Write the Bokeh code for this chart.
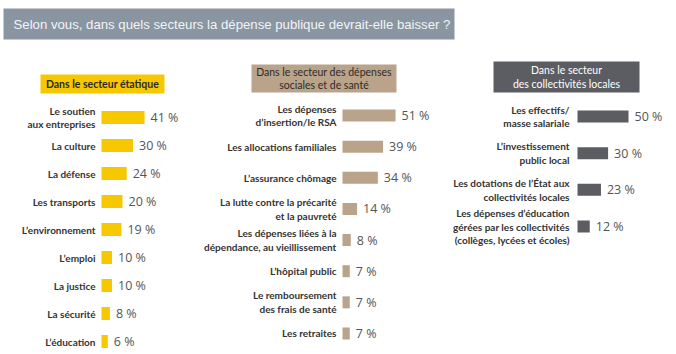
from bokeh.plotting import figure
from bokeh.models import Range1d, ColumnDataSource
from bokeh.layouts import column, row
from bokeh.embed import file_html
from bokeh.resources import INLINE
from bokeh.core.properties import value

title_text = "Selon vous, dans quels secteurs la dépense publique devrait-elle baisser ?"

etat_header = "Dans le secteur étatique"
etat_labels = ["Le soutien\naux entreprises", "La culture", "La défense", "Les transports",
               "L’environnement", "L’emploi", "La justice", "La sécurité", "L’éducation"]
etat_values = [41, 30, 24, 20, 19, 10, 10, 8, 6]

social_header = "Dans le secteur des dépenses\nsociales et de santé"
social_labels = ["Les dépenses\nd’insertion/le RSA", "Les allocations familiales", "L’assurance chômage",
                 "La lutte contre la précarité\net la pauvreté",
                 "Les dépenses liées à la\ndépendance, au vieillissement",
                 "L’hôpital public", "Le remboursement\ndes frais de santé", "Les retraites"]
social_values = [51, 39, 34, 14, 8, 7, 7, 7]

local_header = "Dans le secteur\ndes collectivités locales"
local_labels = ["Les effectifs/\nmasse salariale", "L’investissement\npublic local",
                "Les dotations de l’État aux\ncollectivités locales",
                "Les dépenses d’éducation\ngérées par les collectivités\n(collèges, lycées et écoles)"]
local_values = [50, 30, 23, 12]

LABEL_FONT = "Lato"
TOP_H = 48
PANEL_H = 354 - TOP_H


def make_panel(labels, values, header, color, page_x0, width, bar_left, scale, first_y, spacing,
               bar_h, hbox, hfill, htext_color, hstyle, label_gap):
    # ranges: 1 data unit in x = 1 percent; 1 data unit in y = one row
    x0 = -(bar_left - page_x0) / scale
    x1 = (page_x0 + width - bar_left) / scale
    y_top = -(first_y - TOP_H) / spacing
    y_bot = (354 - first_y) / spacing
    p = figure(width=width, height=PANEL_H, x_range=Range1d(x0, x1), y_range=Range1d(y_bot, y_top),
               toolbar_location=None, output_backend="svg", min_border=0,
               x_axis_location=None, y_axis_location=None, outline_line_color=None)
    p.grid.visible = False
    p.background_fill_color = "white"
    p.border_fill_color = "white"

    src = ColumnDataSource(dict(
        y=list(range(len(values))),
        v=values,
        lab=labels,
        txt=[f"{v} %" for v in values],
        zero=[0] * len(values),
    ))
    p.hbar(y="y", left=0, right="v", height=bar_h / spacing, source=src,
           fill_color=color, line_color=None)
    p.text(x="zero", y="y", text="lab", source=src, x_offset=-label_gap, text_align="right",
           text_baseline="middle", text_font=value(LABEL_FONT), text_font_style="bold",
           text_font_size="10px", text_color="#333333", text_line_height=1.15)
    p.text(x="v", y="y", text="txt", source=src, x_offset=6, text_align="left",
           text_baseline="middle", text_font=value("Open Sans"), text_font_size="12.5px",
           text_color="#555555")

    # header box (given in page pixels)
    hx0, hx1, hy0, hy1 = hbox
    def dx(px):
        return (px - bar_left) / scale
    def dy(py):
        return (py - first_y) / spacing
    p.quad(left=[dx(hx0)], right=[dx(hx1)], top=[dy(hy0)], bottom=[dy(hy1)],
           fill_color=hfill, line_color=None)
    p.text(x=[dx((hx0 + hx1) / 2)], y=[dy((hy0 + hy1) / 2)], text=[header],
           text_align="center", text_baseline="middle", text_font=value(LABEL_FONT),
           text_font_style=hstyle, text_font_size="10.5px", text_color=htext_color,
           text_line_height=1.1)
    return p


# title strip
t = figure(width=676, height=TOP_H, x_range=Range1d(0, 676), y_range=Range1d(TOP_H, 0),
           toolbar_location=None, output_backend="svg", min_border=0,
           x_axis_location=None, y_axis_location=None, outline_line_color=None)
t.grid.visible = False
t.quad(left=[3], right=[454], top=[8], bottom=[39], fill_color="#8a95a2", line_color=None)
t.text(x=[13], y=[24], text=[title_text], text_align="left", text_baseline="middle",
       text_font=value("Liberation Sans"), text_font_size="13.2px", text_color="#f2f4f6")

p1 = make_panel(etat_labels, etat_values, etat_header, "#f7c700", 0, 196, 101, 1.05, 117, 28,
                13, (40, 164, 74, 93), "#f7c700", "#2a2a2a", "bold", 6)
p2 = make_panel(social_labels, social_values, social_header, "#b9a48b", 196, 256, 342, 1.04, 115,
                31.14, 12, (251, 396, 64, 92), "#b9a48b", "#2e2a26", "normal", 6)
p3 = make_panel(local_labels, local_values, local_header, "#5c5d62", 452, 224, 577, 1.02, 116,
                36.67, 12, (493, 639, 61, 92), "#5c5d62", "#ffffff", "normal", 8)

layout = column(t, row(p1, p2, p3, spacing=0), spacing=0)
open("out.html", "w").write(file_html(layout, INLINE))
